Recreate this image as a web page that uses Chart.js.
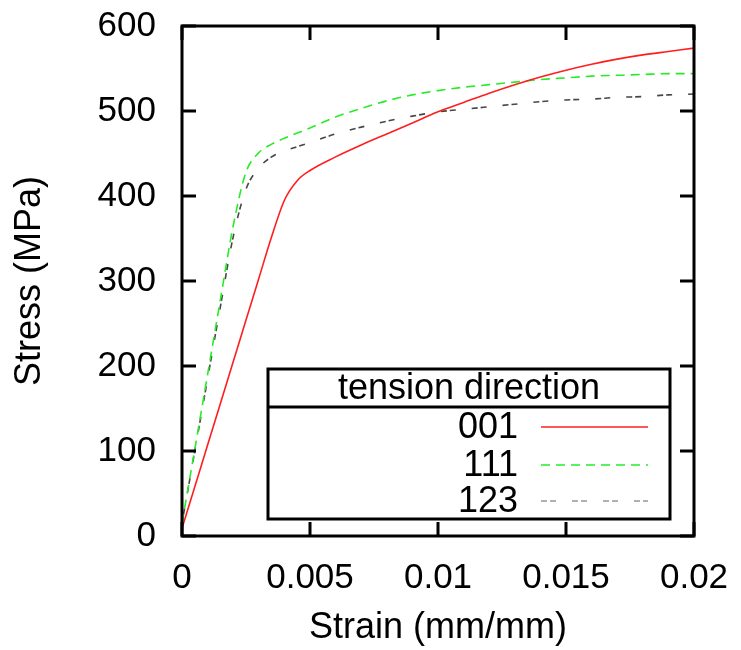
<!DOCTYPE html>
<html>
<head>
<meta charset="utf-8">
<title>Stress vs strain</title>
<script src="https://cdn.jsdelivr.net/npm/chart.js@4.4.0/dist/chart.umd.min.js"></script>
<style>
  html, body { margin: 0; padding: 0; background: #fff; }
  #wrap { width: 741px; height: 650px; }
</style>
</head>
<body>
<div id="wrap"><canvas id="stressChart" width="741" height="650"></canvas></div>
<script>
// strain values (mm/mm), shared by all three curves
const strain = [0, 0.0005, 0.001, 0.0015, 0.002, 0.0025, 0.003, 0.0035, 0.004, 0.0045,
                0.005, 0.006, 0.007, 0.008, 0.009, 0.01, 0.011, 0.012, 0.013, 0.014,
                0.015, 0.016, 0.017, 0.018, 0.019, 0.02];

// stress (MPa) for each tension direction
const stress001 = [9, 58, 107, 156, 205, 254, 303, 352, 395, 418,
                   430, 446, 460, 473, 486, 499, 510, 521, 531, 540,
                   548, 555, 561, 566, 570, 574];
const stress111 = [15, 102, 190, 278, 365, 428, 451, 461, 468, 474,
                   480, 493, 503, 512, 519, 524, 528, 531, 534, 537,
                   539, 541, 542, 543, 544, 544];
const stress123 = [15, 100, 185, 270, 352, 408, 433, 446, 453, 458,
                   463, 473, 481, 488, 494, 499, 502, 505, 508, 511,
                   513, 514, 516, 517, 519, 520];

const directions = ['001', '111', '123'];
const legendTitle = 'tension direction';
const xTicks = [0, 0.005, 0.01, 0.015, 0.02];
const yTicks = [0, 100, 200, 300, 400, 500, 600];

const FONT = '"Liberation Sans", Arial, sans-serif';

function toPoints(ys) {
    return strain.map((x, i) => ({ x: x, y: ys[i] }));
}

// gnuplot style frame with inward ticks on all four sides
const framePlugin = {
    id: 'frame',
    afterDatasetsDraw(chart) {
        const ctx = chart.ctx;
        const a = chart.chartArea;
        const xs = chart.scales.x;
        const ys = chart.scales.y;
        const len = 14;
        ctx.save();
        ctx.strokeStyle = '#000';
        ctx.lineWidth = 3;
        ctx.beginPath();
        yTicks.forEach(v => {
            const py = ys.getPixelForValue(v);
            ctx.moveTo(a.left, py); ctx.lineTo(a.left + len, py);
            ctx.moveTo(a.right, py); ctx.lineTo(a.right - len, py);
        });
        xTicks.forEach(v => {
            const px = xs.getPixelForValue(v);
            ctx.moveTo(px, a.bottom); ctx.lineTo(px, a.bottom - len);
            ctx.moveTo(px, a.top); ctx.lineTo(px, a.top + len);
        });
        ctx.stroke();
        ctx.strokeRect(a.left, a.top, a.right - a.left, a.bottom - a.top);
        ctx.restore();
    }
};

// boxed legend with a title row, like the original
const boxLegendPlugin = {
    id: 'boxLegend',
    afterDraw(chart) {
        const ctx = chart.ctx;
        const a = chart.chartArea;
        const w = 402, h = 150, headH = 38;
        const right = a.right - 24;
        const bottom = a.bottom - 17;
        const left = right - w;
        const top = bottom - h;
        ctx.save();
        ctx.fillStyle = '#fff';
        ctx.fillRect(left, top, w, h);
        ctx.strokeStyle = '#000';
        ctx.lineWidth = 3;
        ctx.strokeRect(left, top, w, h);
        ctx.beginPath();
        ctx.moveTo(left, top + headH);
        ctx.lineTo(right, top + headH);
        ctx.stroke();

        ctx.fillStyle = '#000';
        ctx.font = '36px ' + FONT;
        ctx.textAlign = 'center';
        ctx.textBaseline = 'middle';
        ctx.fillText(legendTitle, left + w / 2, top + headH / 2 + 1);

        const rowY = [top + 58, top + 96, top + 132];
        chart.data.datasets.forEach((ds, i) => {
            ctx.textAlign = 'right';
            ctx.fillStyle = '#000';
            ctx.fillText(ds.label, left + 250, rowY[i] + 1);
            ctx.strokeStyle = ds.legendColor || ds.borderColor;
            ctx.lineWidth = ds.borderWidth;
            ctx.setLineDash(ds.borderDash || []);
            ctx.beginPath();
            ctx.moveTo(left + 273, rowY[i]);
            ctx.lineTo(left + 380, rowY[i]);
            ctx.stroke();
        });
        ctx.restore();
    }
};

const ctx = document.getElementById('stressChart').getContext('2d');
new Chart(ctx, {
    type: 'line',
    data: {
        datasets: [{
            label: directions[0],
            data: toPoints(stress001),
            borderColor: 'rgb(255, 30, 30)',
            borderWidth: 1.6,
            pointRadius: 0,
            cubicInterpolationMode: 'monotone'
        }, {
            label: directions[1],
            data: toPoints(stress111),
            borderColor: 'rgb(40, 235, 40)',
            borderWidth: 1.6,
            borderDash: [9, 6],
            pointRadius: 0,
            cubicInterpolationMode: 'monotone'
        }, {
            label: directions[2],
            data: toPoints(stress123),
            borderColor: 'rgb(70, 70, 70)',
            legendColor: 'rgb(150, 150, 150)',
            borderWidth: 1.6,
            borderDash: [6, 3, 6, 16],
            pointRadius: 0,
            cubicInterpolationMode: 'monotone'
        }]
    },
    options: {
        responsive: false,
        animation: false,
        devicePixelRatio: 1,
        layout: { padding: { top: 26, right: 47, bottom: 0, left: 0 } },
        plugins: {
            legend: { display: false },
            tooltip: { enabled: false }
        },
        scales: {
            x: {
                type: 'linear',
                min: 0,
                max: 0.02,
                afterFit: s => {
                    s.height = 114;
                    s.paddingLeft = 0;
                    s.paddingRight = 0;
                },
                afterBuildTicks: s => { s.ticks = xTicks.map(v => ({ value: v })); },
                grid: { display: false, drawTicks: false },
                border: { display: false },
                ticks: {
                    color: '#000',
                    font: { family: FONT, size: 35 },
                    padding: 21,
                    maxRotation: 0,
                    callback: v => String(+v.toFixed(4))
                },
                title: {
                    display: true,
                    text: 'Strain (mm/mm)',
                    color: '#000',
                    font: { family: FONT, size: 36 },
                    padding: { top: 0, bottom: 0 }
                }
            },
            y: {
                min: 0,
                max: 600,
                afterFit: s => {
                    s.width = 182;
                    s.paddingTop = 0;
                    s.paddingBottom = 0;
                },
                afterBuildTicks: s => { s.ticks = yTicks.map(v => ({ value: v })); },
                grid: { display: false, drawTicks: false },
                border: { display: false },
                ticks: {
                    color: '#000',
                    font: { family: FONT, size: 35 },
                    padding: 26
                },
                title: {
                    display: true,
                    text: 'Stress (MPa)',
                    color: '#000',
                    font: { family: FONT, size: 36 },
                    padding: { top: 8, bottom: 0 }
                }
            }
        }
    },
    plugins: [framePlugin, boxLegendPlugin]
});
</script>
</body>
</html>
